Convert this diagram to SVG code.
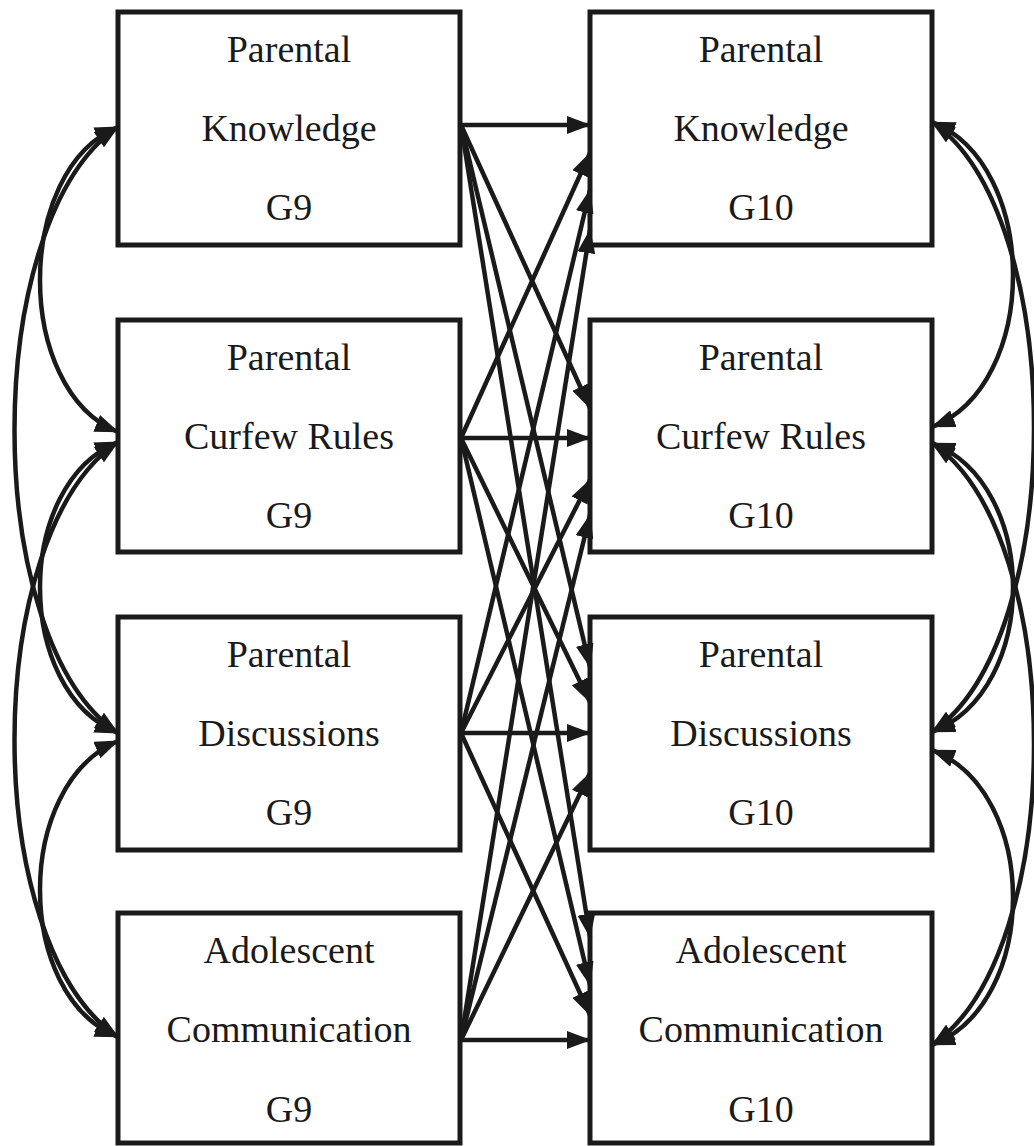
<svg xmlns="http://www.w3.org/2000/svg" width="1034" height="1146" viewBox="0 0 1034 1146">
<defs>
<marker id="ah" viewBox="0 0 24 18" refX="23" refY="9" markerWidth="24" markerHeight="18" markerUnits="userSpaceOnUse" orient="auto-start-reverse">
<path d="M0,0 L24,9 L0,18 z" fill="#1a1a1a"/>
</marker>
<style>
.box{fill:#fff;stroke:#1a1a1a;stroke-width:5}
.t{font-size:38px;fill:#1a1a1a;text-anchor:middle}
.ln{stroke:#1a1a1a;stroke-width:4.5;fill:none;marker-end:url(#ah)}
.cv{stroke:#1a1a1a;stroke-width:4.5;fill:none;marker-start:url(#ah);marker-end:url(#ah)}
</style>
</defs>
<rect width="1034" height="1146" fill="#fff"/>
<g font-family="Liberation Serif, DejaVu Serif, serif">
<g id="pk9"><rect class="box" x="118" y="12" width="342" height="233"/><text class="t" x="289" y="62">Parental</text><text class="t" x="289" y="141">Knowledge</text><text class="t" x="289" y="220">G9</text></g>
<g id="pc9"><rect class="box" x="118" y="320" width="342" height="232"/><text class="t" x="289" y="370">Parental</text><text class="t" x="289" y="449">Curfew Rules</text><text class="t" x="289" y="528">G9</text></g>
<g id="pd9"><rect class="box" x="118" y="617" width="342" height="233"/><text class="t" x="289" y="667">Parental</text><text class="t" x="289" y="746">Discussions</text><text class="t" x="289" y="825">G9</text></g>
<g id="ac9"><rect class="box" x="118" y="913" width="342" height="230"/><text class="t" x="289" y="963">Adolescent</text><text class="t" x="289" y="1042">Communication</text><text class="t" x="289" y="1122">G9</text></g>
<g id="pk10"><rect class="box" x="590" y="12" width="342" height="233"/><text class="t" x="761" y="62">Parental</text><text class="t" x="761" y="141">Knowledge</text><text class="t" x="761" y="220">G10</text></g>
<g id="pc10"><rect class="box" x="590" y="320" width="342" height="232"/><text class="t" x="761" y="370">Parental</text><text class="t" x="761" y="449">Curfew Rules</text><text class="t" x="761" y="528">G10</text></g>
<g id="pd10"><rect class="box" x="590" y="617" width="342" height="233"/><text class="t" x="761" y="667">Parental</text><text class="t" x="761" y="746">Discussions</text><text class="t" x="761" y="825">G10</text></g>
<g id="ac10"><rect class="box" x="590" y="913" width="342" height="230"/><text class="t" x="761" y="963">Adolescent</text><text class="t" x="761" y="1042">Communication</text><text class="t" x="761" y="1122">G10</text></g>
</g>
<g id="connectors">
<line class="ln" x1="461" y1="125" x2="590" y2="125"/>
<line class="ln" x1="461" y1="125" x2="590" y2="408"/>
<line class="ln" x1="461" y1="125" x2="590" y2="667"/>
<line class="ln" x1="461" y1="125" x2="590" y2="937"/>
<line class="ln" x1="461" y1="438" x2="590" y2="153"/>
<line class="ln" x1="461" y1="438" x2="590" y2="438"/>
<line class="ln" x1="461" y1="438" x2="590" y2="702"/>
<line class="ln" x1="461" y1="438" x2="590" y2="985"/>
<line class="ln" x1="461" y1="733" x2="590" y2="190"/>
<line class="ln" x1="461" y1="733" x2="590" y2="480"/>
<line class="ln" x1="461" y1="733" x2="590" y2="733"/>
<line class="ln" x1="461" y1="733" x2="590" y2="1015"/>
<line class="ln" x1="461" y1="1040" x2="590" y2="230"/>
<line class="ln" x1="461" y1="1040" x2="590" y2="515"/>
<line class="ln" x1="461" y1="1040" x2="590" y2="773"/>
<line class="ln" x1="461" y1="1040" x2="590" y2="1040"/>
<path class="cv" d="M118,127 C14,170 14,390 118,432"/>
<path class="cv" d="M118,127 C-20,220 -20,640 118,733"/>
<path class="cv" d="M118,442 C14,485 14,690 118,733"/>
<path class="cv" d="M118,442 C-20,535 -20,945 118,1037"/>
<path class="cv" d="M118,741 C14,785 14,995 118,1037"/>
<path class="cv" d="M932,122 C1040,165 1040,385 932,427"/>
<path class="cv" d="M932,122 C1068,215 1068,640 932,732"/>
<path class="cv" d="M932,443 C1040,485 1040,690 932,732"/>
<path class="cv" d="M932,443 C1068,535 1068,953 932,1045"/>
<path class="cv" d="M932,750 C1040,792 1040,1003 932,1045"/>
</g>
</svg>
